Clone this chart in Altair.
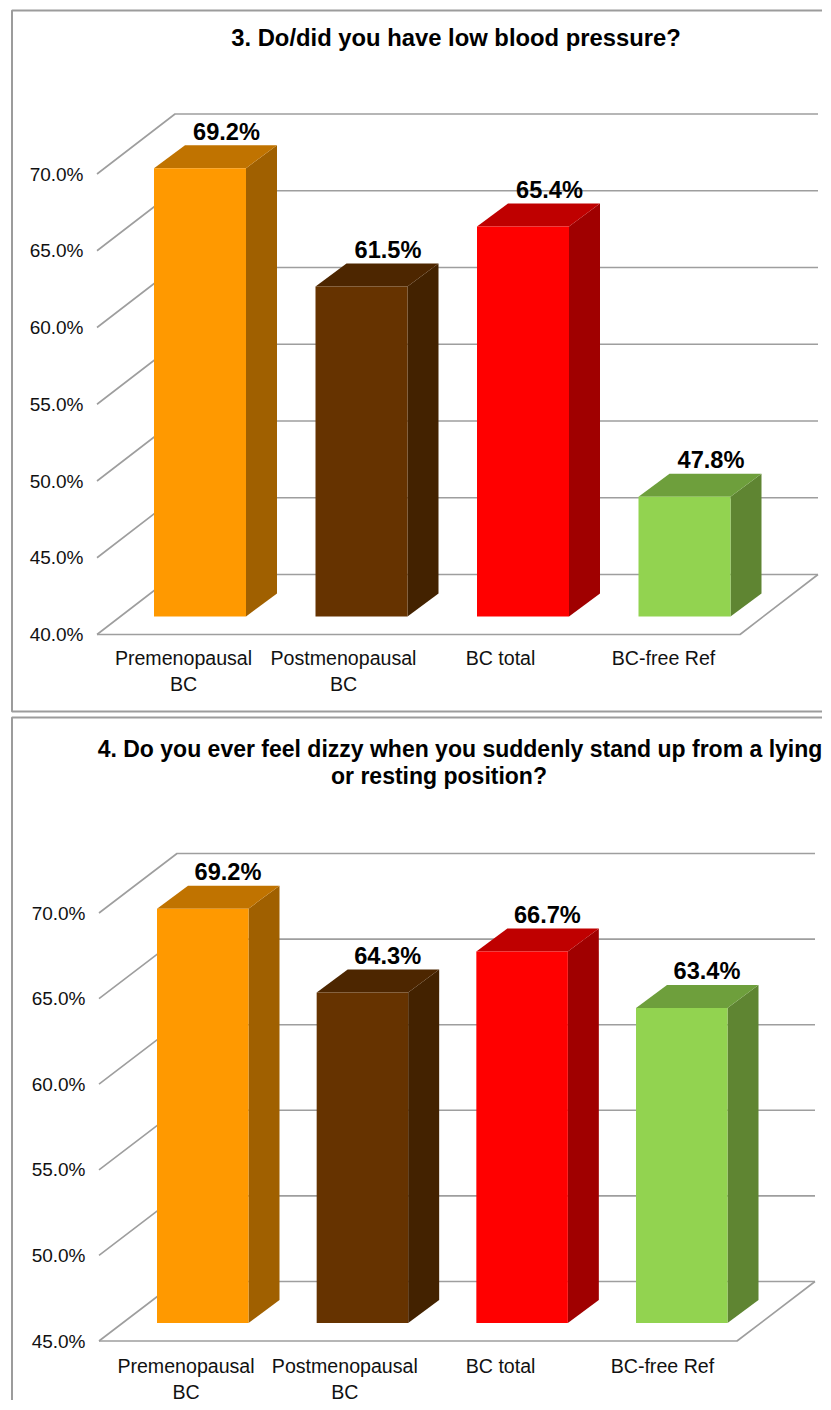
import altair as alt
import pandas as pd

CATEGORIES = ["Premenopausal\nBC", "Postmenopausal\nBC", "BC total", "BC-free Ref"]
VALUES_3 = [69.2, 61.5, 65.4, 47.8]
VALUES_4 = [69.2, 64.3, 66.7, 63.4]
TICKS_3 = [40, 45, 50, 55, 60, 65, 70]
TICKS_4 = [45, 50, 55, 60, 65, 70]
TITLE_3 = ["3. Do/did you have low blood pressure?"]
TITLE_4 = ["4. Do you ever feel dizzy when you suddenly stand up from a lying", "or resting position?"]

FRONT = ["#FF9900", "#663300", "#FF0000", "#92D350"]
TOP = ["#C07300", "#4D2600", "#BF0000", "#6E9F3C"]
SIDE = ["#A06000", "#432200", "#A00000", "#5F8532"]
GRID = "#9E9E9E"
FRAME = "#9C9C9C"
FONT = "Liberation Sans"
FRAME_LEFT, FRAME_RIGHT = 12, 823
LABEL_NUDGE = [0, 0, -3, 0]


def panel(values, ticks, title, title_x, title_y, title_size, L):
    k = L["px_per_pct"]
    t0 = ticks[0]
    pct = lambda px: px / k
    ydom = [t0 - pct(L["bottom"] - L["floor"]), t0 + pct(L["floor"] - L["top"])]
    xs = alt.Scale(domain=[FRAME_LEFT, FRAME_RIGHT], nice=False, zero=False)
    ys = alt.Scale(domain=ydom, nice=False, zero=False)
    yaxis = alt.Axis(
        values=ticks,
        offset=FRAME_LEFT - L["ax0"],
        domain=False,
        ticks=False,
        grid=False,
        title=None,
        labelPadding=14,
        labelFont=FONT,
        labelFontSize=19,
        labelColor="#111111",
        labelExpr="format(datum.value, '.1f') + '%'",
    )
    X = lambda f="x": alt.X(f"{f}:Q", scale=xs, axis=None)
    Y = lambda f="y": alt.Y(f"{f}:Q", scale=ys, axis=yaxis)

    # chart frame: no right edge, as the original runs off the page there
    edge = FRAME_RIGHT - 1
    fr = [
        dict(o=1, x=FRAME_LEFT, y=ydom[0]),
        dict(o=2, x=FRAME_LEFT, y=ydom[1]),
        dict(o=3, x=edge, y=ydom[1]),
    ]
    if L["closed"]:
        fr.append(dict(o=0, x=edge, y=ydom[0]))
    frame = alt.Chart(pd.DataFrame(fr)).mark_line(
        color=FRAME, strokeWidth=2, strokeJoin="bevel"
    ).encode(x=X(), y=Y(), order="o:Q")

    # walls and floor
    lines = []
    for t in ticks:
        lines += [
            dict(g=t, o=0, x=L["ax0"], y=t),
            dict(g=t, o=1, x=L["ax0"] + L["wall_dx"], y=t + pct(L["wall_dy"])),
            dict(g=t, o=2, x=L["ax1"] + L["wall_dx"], y=t + pct(L["wall_dy"])),
        ]
    lines += [
        dict(g=-1, o=0, x=L["ax0"], y=t0),
        dict(g=-1, o=1, x=L["ax1"], y=t0),
        dict(g=-1, o=2, x=L["ax1"] + L["wall_dx"], y=t0 + pct(L["wall_dy"])),
    ]
    grid = alt.Chart(pd.DataFrame(lines)).mark_line(
        color=GRID, strokeWidth=1.6, strokeJoin="bevel"
    ).encode(x=X(), y=Y(), detail="g:N", order="o:Q")

    # bars
    lift = pct(L["floor"] - L["base"])
    dx, dy = L["bar_dx"], pct(L["bar_dy"])
    w = L["bar_w"]
    fronts, sides, tops, labels, cats = [], [], [], [], []
    for i, v in enumerate(values):
        x0 = L["bar0"] + i * L["bar_step"]
        b, t = t0 + lift, v + lift
        fronts.append(dict(x=x0, x2=x0 + w, y=b, y2=t, c=FRONT[i]))
        sides += [
            dict(x=x0 + w, lo=b, hi=t, c=SIDE[i]),
            dict(x=x0 + w + dx, lo=b + dy, hi=t + dy, c=SIDE[i]),
        ]
        tops += [
            dict(x=x0, lo=t, hi=t, c=TOP[i]),
            dict(x=x0 + dx, lo=t, hi=t + dy, c=TOP[i]),
            dict(x=x0 + w, lo=t, hi=t + dy, c=TOP[i]),
            dict(x=x0 + w + dx, lo=t + dy, hi=t + dy, c=TOP[i]),
        ]
        labels.append(dict(x=x0 + L["val_dx"], y=t + dy + pct(12.5), t=f"{v:.1f}%"))
        cats.append(dict(x=L["lab0"] + i * L["lab_step"] + LABEL_NUDGE[i],
                         y=t0 - pct(L["lab_dy"]), t=CATEGORIES[i]))
    color = alt.Color("c:N", scale=None, legend=None)
    front = alt.Chart(pd.DataFrame(fronts)).mark_rect().encode(
        x=X(), x2="x2:Q", y=Y(), y2="y2:Q", color=color)
    side = alt.Chart(pd.DataFrame(sides)).mark_area().encode(
        x=X(), y=Y("lo"), y2="hi:Q", color=color)
    top = alt.Chart(pd.DataFrame(tops)).mark_area().encode(
        x=X(), y=Y("lo"), y2="hi:Q", color=color)

    val = alt.Chart(pd.DataFrame(labels)).mark_text(
        font=FONT, fontSize=23.6, fontWeight="bold", color="#000000", baseline="middle"
    ).encode(x=X(), y=Y(), text="t:N")
    cat = alt.Chart(pd.DataFrame(cats)).mark_text(
        font=FONT, fontSize=19.6, color="#111111", baseline="top", lineBreak="\n", lineHeight=26
    ).encode(x=X(), y=Y(), text="t:N")
    head = alt.Chart(pd.DataFrame([
        dict(x=title_x[i], y=t0 + pct(L["floor"] - title_y[i]), t=s) for i, s in enumerate(title)
    ])).mark_text(
        font=FONT, fontSize=title_size, fontWeight="bold", color="#000000", baseline="middle"
    ).encode(x=X(), y=Y(), text="t:N")

    return alt.layer(frame, grid, side, top, front, val, cat, head).properties(
        width=FRAME_RIGHT - FRAME_LEFT, height=L["bottom"] - L["top"]
    )


L3 = dict(px_per_pct=15.35, floor=634.5, top=10.5, bottom=711.5, ax0=97, ax1=740,
          wall_dx=78, wall_dy=60, base=616.5, bar0=154, bar_step=161.5, bar_w=92,
          bar_dx=31, bar_dy=23, val_dx=72.5, lab0=183.5, lab_step=160, lab_dy=15.5, closed=True)
L4 = dict(px_per_pct=17.12, floor=1341, top=717.5, bottom=1400, ax0=99, ax1=737,
          wall_dx=78, wall_dy=59.5, base=1323, bar0=157, bar_step=159.67, bar_w=91.5,
          bar_dx=31, bar_dy=23, val_dx=71, lab0=186, lab_step=158.8, lab_dy=16.5, closed=False)

chart = alt.vconcat(
    panel(VALUES_3, TICKS_3, TITLE_3, [456], [39], 23.8, L3),
    panel(VALUES_4, TICKS_4, TITLE_4, [460, 439], [750, 777], 23, L4),
    spacing=4,
).properties(
    padding={"left": 3, "top": 1.5, "right": 0, "bottom": 0},
    background="#FFFFFF",
).configure_view(stroke=None)

chart.save("out.html", embed_options={"renderer": "svg", "actions": False})
